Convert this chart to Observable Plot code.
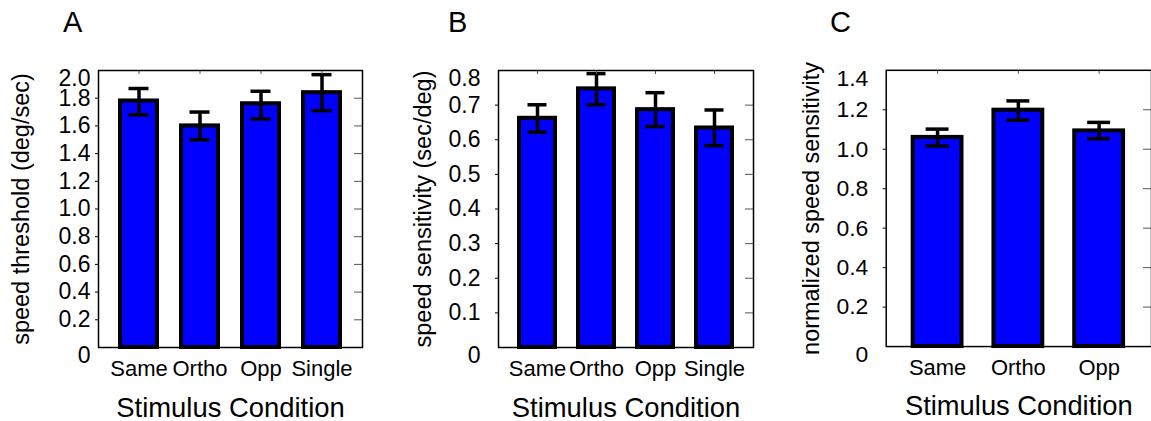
<!DOCTYPE html>
<html>
<head>
<meta charset="utf-8">
<script src="https://cdn.jsdelivr.net/npm/d3@7"></script>
<script src="https://cdn.jsdelivr.net/npm/@observablehq/plot@0.6"></script>
<style>
  html, body { margin: 0; padding: 0; background: white; overflow: hidden; }
  #wrap { position: relative; width: 1151px; height: 421px; overflow: hidden; background: white; }
  .panel { position: absolute; top: 0; }
  .letter { position: absolute; font-family: 'Liberation Sans', Arial, sans-serif; font-size: 29px; line-height: 29px; color: black; }
</style>
</head>
<body>
<div id="wrap"></div>
<script>
// ---- data ----
const conditionsAB = ["Same", "Ortho", "Opp", "Single"];
const conditionsC = ["Same", "Ortho", "Opp"];

const thresholdA = [1.78, 1.60, 1.76, 1.84];
const thresholdLowA = [1.68, 1.50, 1.65, 1.71];
const thresholdHighA = [1.87, 1.70, 1.85, 1.97];

const sensitivityB = [0.662, 0.747, 0.687, 0.634];
const sensitivityLowB = [0.622, 0.701, 0.638, 0.583];
const sensitivityHighB = [0.701, 0.791, 0.736, 0.686];

const normSensC = [1.060, 1.198, 1.093];
const normSensLowC = [1.016, 1.147, 1.053];
const normSensHighC = [1.102, 1.245, 1.136];

const yTicksA = [0, 0.2, 0.4, 0.6, 0.8, 1.0, 1.2, 1.4, 1.6, 1.8, 2.0];
const yTicksB = [0, 0.1, 0.2, 0.3, 0.4, 0.5, 0.6, 0.7, 0.8];
const yTicksC = [0, 0.2, 0.4, 0.6, 0.8, 1.0, 1.2, 1.4];

const yLabelA = "speed threshold (deg/sec)";
const yLabelB = "speed sensitivity (sec/deg)";
const yLabelC = "normalized speed sensitivity";
const xTitle = "Stimulus Condition";
const letters = ["A", "B", "C"];

// ---- drawing ----
const fmt = d => d === 0 ? "0" : d.toFixed(1);
const YTICK_FS = 23;
const XTICK_FS = 22;

function panel({cats, vals, lo, hi, yTicks, yLabel, width, marginLeft, marginRight, capInset, tickPadding, labelDx}) {
  const data = cats.map((c, i) => ({cond: c, value: vals[i], lo: lo[i], hi: hi[i]}));
  const inner = yTicks.slice(1, -1);
  const ends = [yTicks[0], yTicks[yTicks.length - 1]];
  return Plot.plot({
    width, height: 421,
    marginLeft, marginRight, marginTop: 70, marginBottom: 74,
    x: {domain: cats, paddingInner: 0.39, paddingOuter: 0.33},
    y: {domain: [0, yTicks[yTicks.length - 1]]},
    style: {fontFamily: "'Liberation Sans', Arial, sans-serif", fontSize: "22px", color: "black", background: "white", overflow: "visible"},
    marks: [
      Plot.barY(data, {x: "cond", y: "value", fill: "#0000ff", stroke: "black", strokeWidth: 4}),
      Plot.ruleX(data, {x: "cond", y1: "lo", y2: "hi", stroke: "black", strokeWidth: 3.5}),
      Plot.tickY(data, {x: "cond", y: "lo", inset: capInset, stroke: "black", strokeWidth: 3.5}),
      Plot.tickY(data, {x: "cond", y: "hi", inset: capInset, stroke: "black", strokeWidth: 3.5}),
      Plot.axisY(inner, {anchor: "left", tickSize: 3, tickPadding, tickFormat: fmt, label: null, fontSize: YTICK_FS}),
      Plot.axisY(ends, {anchor: "left", tickSize: 3, tickPadding, tickFormat: fmt, label: null, dy: 8, stroke: "none", fontSize: YTICK_FS}),
      Plot.axisY(inner, {anchor: "right", tickSize: -9, tickFormat: () => "", label: null, stroke: "#555"}),
      Plot.axisX({anchor: "top", tickSize: -3, tickFormat: () => "", label: null, stroke: "#555"}),
      Plot.axisX({anchor: "bottom", tickSize: 0, tickPadding: 13, label: null, fontSize: XTICK_FS}),
      Plot.frame({stroke: "black", strokeWidth: 1.5}),
      Plot.text([yLabel], {text: d => d, frameAnchor: "left", textAnchor: "middle", rotate: -90, dx: labelDx, fontSize: 23.5}),
      Plot.text([xTitle], {text: d => d, frameAnchor: "bottom", textAnchor: "middle", lineAnchor: "bottom", dy: 69, fontSize: 27.4})
    ]
  });
}

const wrap = document.getElementById("wrap");
const specs = [
  {left: 0, cats: conditionsAB, vals: thresholdA, lo: thresholdLowA, hi: thresholdHighA, yTicks: yTicksA, yLabel: yLabelA,
   width: 380, marginLeft: 98, marginRight: 18, capInset: 8.5, tickPadding: 5, labelDx: -77, letterX: 63},
  {left: 390, cats: conditionsAB, vals: sensitivityB, lo: sensitivityLowB, hi: sensitivityHighB, yTicks: yTicksB, yLabel: yLabelB,
   width: 380, marginLeft: 108, marginRight: 17, capInset: 8.5, tickPadding: 15, labelDx: -75, letterX: 448},
  {left: 780, cats: conditionsC, vals: normSensC, lo: normSensLowC, hi: normSensHighC, yTicks: yTicksC, yLabel: yLabelC,
   width: 372, marginLeft: 106, marginRight: 0, capInset: 13, tickPadding: 15, labelDx: -75, letterX: 830}
];

specs.forEach((s, i) => {
  const div = document.createElement("div");
  div.className = "panel";
  div.style.left = s.left + "px";
  div.appendChild(panel(s));
  wrap.appendChild(div);
  const l = document.createElement("div");
  l.className = "letter";
  l.style.left = s.letterX + "px";
  l.style.top = "8px";
  l.textContent = letters[i];
  wrap.appendChild(l);
});
</script>
</body>
</html>
